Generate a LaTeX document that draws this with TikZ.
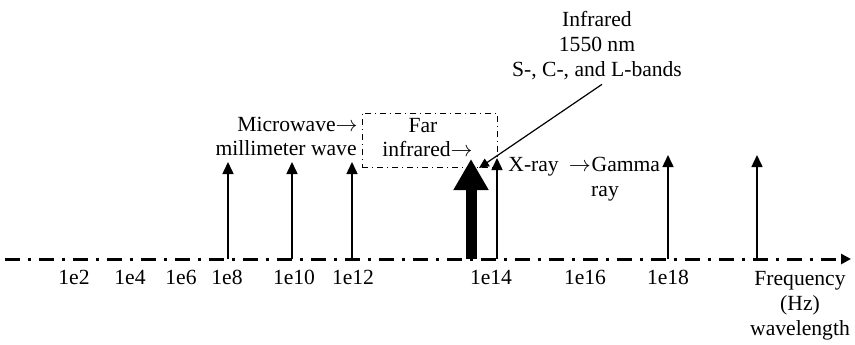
\documentclass[tikz,border=0pt]{standalone}
\usepackage{fontspec}
\setmainfont{Liberation Serif}
\usepackage{tikz}
\usetikzlibrary{arrows.meta, positioning}

\begin{document}
\begin{tikzpicture}[x=0.5pt, y=-0.5pt, font=\fontsize{10.8}{12.5}\selectfont]
\tikzstyle{lbl} = [inner sep=0pt, align=center]
\tikzstyle{band} = [draw, line width=0.75pt, -{Triangle[width=5.5pt,length=6pt]}]
\tikzstyle{bigband} = [draw, line width=5.5pt, -{Triangle[width=16.5pt,length=15.5pt]}]
\tikzstyle{axisline} = [draw, line width=1.5pt, dash pattern=on 7.5pt off 4pt on 1.5pt off 4pt, -{Triangle[width=5pt,length=5pt]}]
\tikzstyle{leader} = [draw, line width=0.6pt, -{Triangle[width=4.5pt,length=5pt]}]

\useasboundingbox (0,0) rectangle (855,344);

% frequency axis
\coordinate (ax0) at (5,259);
\coordinate (ax1) at (851,259);
\draw [axisline] (ax0) -- (ax1);

% tick labels
\node (e2)  [lbl, anchor=base] at (74,284)  {1e2};
\node (e4)  [lbl, anchor=base] at (130,284) {1e4};
\node (e6)  [lbl, anchor=base] at (181,284) {1e6};
\node (e8)  [lbl, anchor=base] at (227,284) {1e8};
\node (e10) [lbl, anchor=base] at (294,284) {1e10};
\node (e12) [lbl, anchor=base] at (353,284) {1e12};
\node (e14) [lbl, anchor=base] at (491,284) {1e14};
\node (e16) [lbl, anchor=base] at (585,284) {1e16};
\node (e18) [lbl, anchor=base] at (668,284) {1e18};
\node (freq) [lbl, anchor=north] at (800,271) {Frequency\\(Hz)\\wavelength};

% band markers
\coordinate (b8)  at (228,259); \coordinate (t8)  at (228,162);
\coordinate (b10) at (292,259); \coordinate (t10) at (292,162);
\coordinate (b12) at (352,259); \coordinate (t12) at (352,162);
\coordinate (b14) at (471,259); \coordinate (t14) at (471,159);
\coordinate (bx)  at (497,259); \coordinate (tx)  at (497,158);
\coordinate (b18) at (668,259); \coordinate (t18) at (668,155);
\coordinate (bf)  at (757,259); \coordinate (tf)  at (757,155);
\draw [band] (b8) -- (t8);
\draw [band] (b10) -- (t10);
\draw [band] (b12) -- (t12);
\draw [bigband] (b14) -- (t14);
\draw [band] (bx) -- (tx);
\draw [band] (b18) -- (t18);
\draw [band] (bf) -- (tf);

% far infrared box
\node (farbox) [draw, line width=0.5pt, dash pattern=on 3pt off 2pt on 0.5pt off 2pt, minimum width=67.5pt, minimum height=27pt, inner sep=0pt] at (429.5,140) {};

% band names
\node (micro) [lbl, anchor=base east] at (358,131) {Microwave$\rightarrow$};
\node (mmw)   [lbl, anchor=base east] at (357,155) {millimeter wave};
\node (far)   [lbl, anchor=base] at (423,132) {Far};
\node (fir)   [lbl, anchor=base east] at (473,156) {infrared$\rightarrow$};
\node (xray)  [lbl, anchor=base west] at (508,171) {X-ray\hspace{5pt}$\rightarrow$\hspace{0.5pt}Gamma};
\node (ray)   [lbl, anchor=base] at (605,196) {ray};

% 1550 nm callout
\node (ir) [lbl, anchor=north] at (597,11) {Infrared\\1550 nm\\S-, C-, and L-bands};
\coordinate (irtip) at (479,168);
\draw [leader] ([xshift=2.5pt,yshift=-2pt]ir.south) -- (irtip);
\end{tikzpicture}
\end{document}
